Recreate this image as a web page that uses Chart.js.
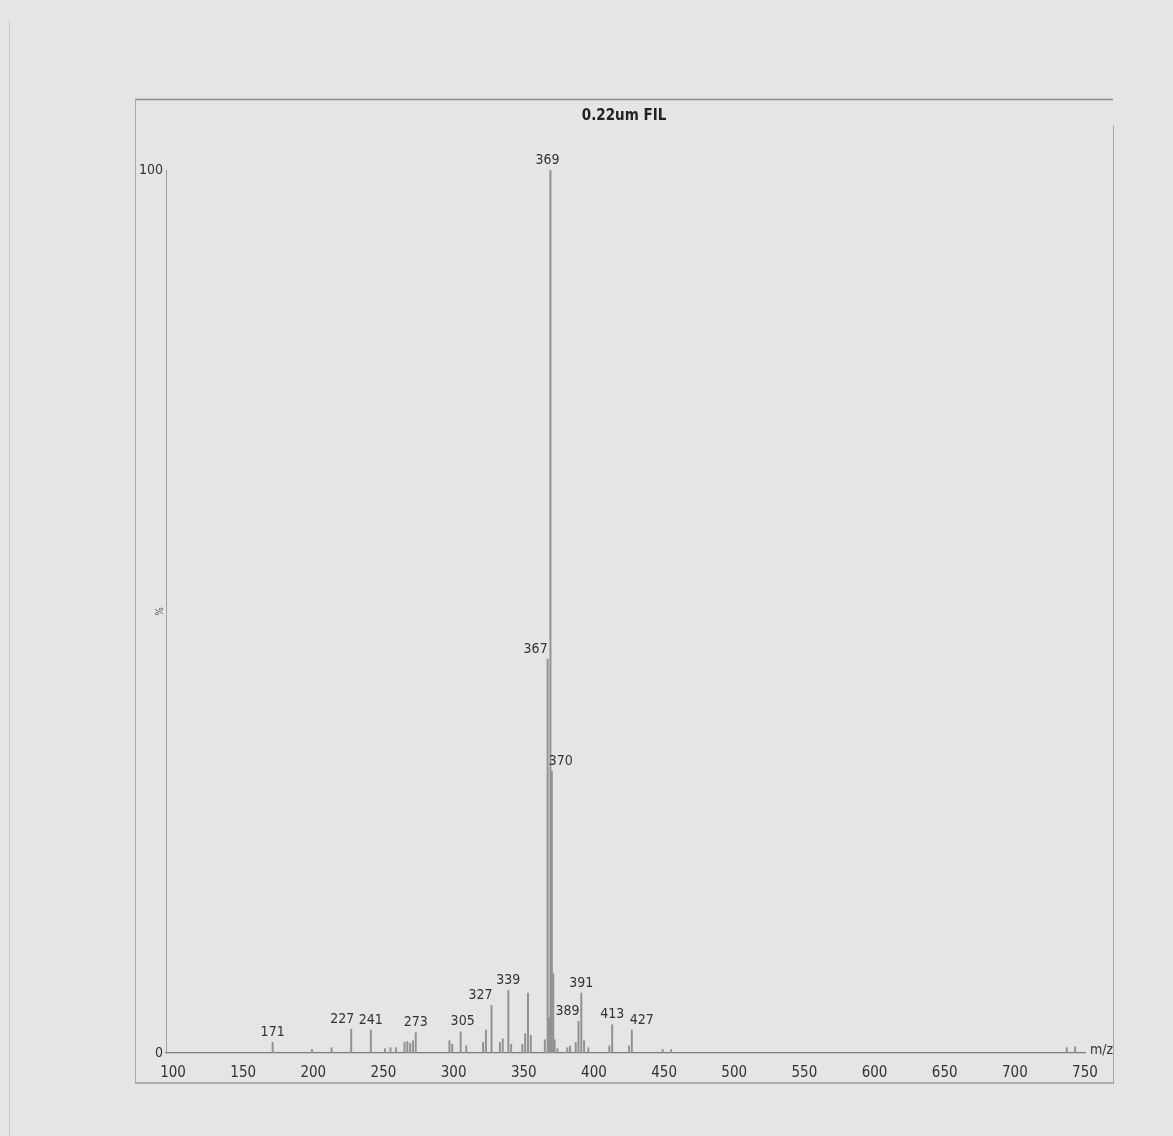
<!DOCTYPE html>
<html>
<head>
<meta charset="utf-8">
<script src="https://cdn.jsdelivr.net/npm/chart.js@4.4.1/dist/chart.umd.min.js"></script>
<style>
  html, body { margin: 0; padding: 0; background: #e5e5e3; }
  canvas { display: block; }
</style>
</head>
<body>
<canvas id="c" width="1173" height="1136"></canvas>
<script>
// ---- data ----
const titleText = "0.22um FIL";
const mzValues = [171, 199, 213, 227, 241, 251, 255, 259, 265, 267, 269, 271, 273, 297, 299, 305, 309,
  321, 323, 327, 333, 335, 339, 341, 349, 351, 353, 355, 365, 367, 368, 369, 370, 371, 372, 374,
  381, 383, 387, 389, 391, 393, 396, 411, 413, 425, 427, 449, 455, 737, 743];
const intensities = [1.2, 0.4, 0.6, 2.7, 2.6, 0.5, 0.6, 0.6, 1.2, 1.3, 1.1, 1.4, 2.3, 1.4, 1.0, 2.4, 0.8,
  1.2, 2.6, 5.4, 1.2, 1.6, 7.1, 1.0, 1.0, 2.2, 6.8, 2.0, 1.5, 44.6, 4.0, 100, 31.9, 9.0, 1.5, 0.5,
  0.6, 0.8, 1.2, 3.6, 6.8, 1.4, 0.6, 0.8, 3.2, 0.8, 2.6, 0.4, 0.4, 0.6, 0.7];
const labelledPeaks = [171, 227, 241, 273, 305, 327, 339, 367, 369, 370, 389, 391, 413, 427];
const xTickValues = [100, 150, 200, 250, 300, 350, 400, 450, 500, 550, 600, 650, 700, 750];
const yTickValues = [0, 100];

const FONT = "'Liberation Sans Narrow', 'DejaVu Sans Condensed', 'Liberation Sans', Arial, sans-serif";

const peakData = mzValues.map((m, i) => ({ x: m, y: intensities[i] }));

const decorPlugin = {
  id: 'decor',
  beforeDraw(chart) {
    const ctx = chart.ctx;
    ctx.save();
    ctx.fillStyle = '#e5e5e3';
    ctx.fillRect(0, 0, chart.width, chart.height);
    // faint scan edge
    ctx.strokeStyle = 'rgba(150,150,150,0.35)';
    ctx.lineWidth = 1;
    ctx.beginPath();
    ctx.moveTo(9.5, 20); ctx.lineTo(9.5, chart.height);
    ctx.stroke();
    // frame
    ctx.strokeStyle = '#8c8c8c';
    ctx.lineWidth = 1.5;
    ctx.beginPath();
    ctx.moveTo(135, 99.5); ctx.lineTo(1113, 99.5);
    ctx.stroke();
    ctx.strokeStyle = '#ababab';
    ctx.lineWidth = 1;
    ctx.beginPath();
    ctx.moveTo(135.5, 99); ctx.lineTo(135.5, 1083);
    ctx.moveTo(1113.5, 125); ctx.lineTo(1113.5, 1083);
    ctx.stroke();
    ctx.strokeStyle = '#9a9a9a';
    ctx.lineWidth = 1.5;
    ctx.beginPath();
    ctx.moveTo(135, 1083); ctx.lineTo(1114, 1083);
    ctx.stroke();
    ctx.restore();
  },
  afterDraw(chart) {
    const ctx = chart.ctx;
    const xs = chart.scales.x, ys = chart.scales.y;
    const nudge = chart.options.plugins.decor.nudge;
    ctx.save();
    // title
    ctx.fillStyle = '#222';
    ctx.font = 'bold 15px ' + FONT;
    ctx.textAlign = 'center';
    ctx.textBaseline = 'middle';
    ctx.fillText(titleText, 624, 116);
    // peak labels
    ctx.font = '14px ' + FONT;
    ctx.fillStyle = '#333';
    labelledPeaks.forEach(m => {
      const i = mzValues.indexOf(m);
      const px = xs.getPixelForValue(m) + (nudge[m] || 0);
      const py = ys.getPixelForValue(intensities[i]) - 10;
      ctx.fillText(String(m), px, py);
    });
    // m/z unit
    ctx.textAlign = 'left';
    ctx.font = '14px ' + FONT;
    ctx.fillText('m/z', xs.right + 5, ys.bottom - 3);
    // % label
    ctx.save();
    ctx.translate(xs.left - 6, (ys.top + ys.bottom) / 2);
    ctx.rotate(-Math.PI / 2);
    ctx.font = '10px ' + FONT;
    ctx.textAlign = 'center';
    ctx.fillStyle = '#555';
    ctx.fillText('%', 0, 0);
    ctx.restore();
    ctx.restore();
  }
};

new Chart(document.getElementById('c'), {
  type: 'bar',
  data: {
    datasets: [{
      data: peakData,
      backgroundColor: '#919191',
      borderWidth: 0,
      barThickness: 1.3
    }]
  },
  options: {
    responsive: false,
    animation: false,
    devicePixelRatio: 1,
    layout: { padding: { left: 126, right: 88, top: 170, bottom: 43 } },
    plugins: {
      legend: { display: false },
      tooltip: { enabled: false },
      decor: { nudge: { 367: -12, 370: 9, 389: -11, 327: -11, 427: 10, 227: -9, 305: 2, 369: -3 } }
    },
    scales: {
      x: {
        type: 'linear',
        offset: false,
        min: 95,
        max: 750,
        grid: { display: false, drawTicks: false },
        border: { display: true, color: '#7a7a7a', width: 1.2 },
        afterBuildTicks: s => { s.ticks = xTickValues.map(v => ({ value: v })); },
        afterFit: s => { s.height = 40; },
        ticks: {
          color: '#333',
          font: { family: FONT, size: 15 },
          padding: 11,
          maxRotation: 0,
          autoSkip: false
        }
      },
      y: {
        min: 0,
        max: 100,
        grid: { display: false, drawTicks: false },
        border: { display: true, color: '#a0a0a0', width: 1 },
        afterBuildTicks: s => { s.ticks = yTickValues.map(v => ({ value: v })); },
        afterFit: s => { s.width = 40; },
        ticks: {
          color: '#333',
          font: { family: FONT, size: 14 },
          padding: 3
        }
      }
    }
  },
  plugins: [decorPlugin]
});
</script>
</body>
</html>
